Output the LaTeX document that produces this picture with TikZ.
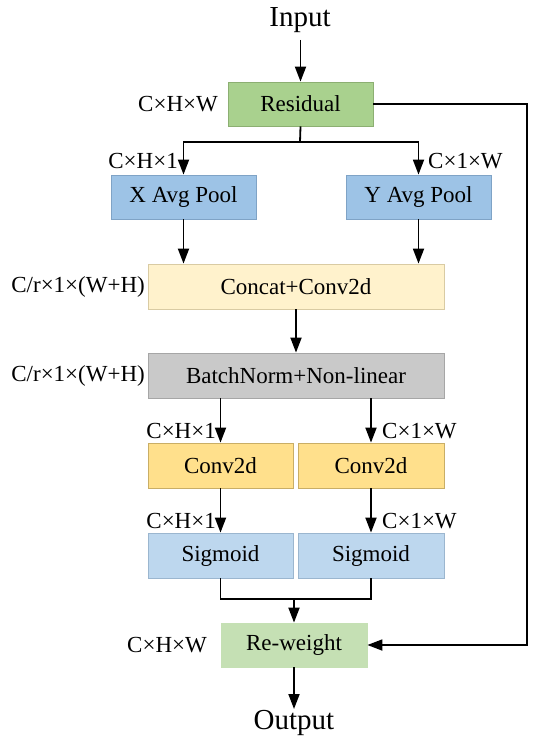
\documentclass[tikz,border=0pt]{standalone}
\usepackage{fontspec}
\setmainfont{Liberation Serif}
\usetikzlibrary{arrows.meta}
\definecolor{resfill}{HTML}{A9D18E}
\definecolor{resdraw}{HTML}{8CAF72}
\definecolor{poolfill}{HTML}{9DC3E6}
\definecolor{pooldraw}{HTML}{7FA3C6}
\definecolor{catfill}{HTML}{FFF2CC}
\definecolor{catdraw}{HTML}{D9CBA3}
\definecolor{bnfill}{HTML}{C9C9C9}
\definecolor{bndraw}{HTML}{A6A6A6}
\definecolor{convfill}{HTML}{FFE08C}
\definecolor{convdraw}{HTML}{C9AE66}
\definecolor{sigfill}{HTML}{BDD7EE}
\definecolor{sigdraw}{HTML}{9BB6CF}
\definecolor{rwfill}{HTML}{C5E0B4}
\tikzset{
  box/.style={minimum height=44pt, inner sep=0pt, font=\fontsize{23}{26}\selectfont, line width=0.8pt},
  lbl/.style={inner sep=0pt, font=\fontsize{23}{26}\selectfont},
  io/.style={inner sep=1pt, font=\fontsize{29}{32}\selectfont},
  conn/.style={line width=1.8pt, black},
  arr/.style={conn, -{Triangle[length=15pt,width=11pt]}}
}
\begin{document}
\begin{tikzpicture}[x=1pt,y=-1pt]
\useasboundingbox (0,0) rectangle (550,746);
\node[io] (in) at (300,20) {Input};
\node[box, fill=resfill, draw=resdraw, minimum width=145pt] (res) at (300.5,104) {Residual};
\node[box, fill=poolfill, draw=pooldraw, minimum width=145pt] (xp) at (183.5,197) {X Avg Pool};
\node[box, fill=poolfill, draw=pooldraw, minimum width=145pt] (yp) at (418.5,197) {Y Avg Pool};
\node[box, fill=catfill, draw=catdraw, minimum width=296pt, minimum height=45pt] (cat) at (296,286.5) {Concat+Conv2d};
\node[box, fill=bnfill, draw=bndraw, minimum width=296pt, minimum height=45pt] (bn) at (296,375.5) {BatchNorm+Non-linear};
\node[box, fill=convfill, draw=convdraw, minimum width=145pt, minimum height=45pt] (cl) at (220.5,465.5) {Conv2d};
\node[box, fill=convfill, draw=convdraw, minimum width=146pt, minimum height=45pt] (cr) at (371,465.5) {Conv2d};
\node[box, fill=sigfill, draw=sigdraw, minimum width=145pt, minimum height=45pt] (sl) at (220.5,555.5) {Sigmoid};
\node[box, fill=sigfill, draw=sigdraw, minimum width=146pt, minimum height=45pt] (sr) at (371,555.5) {Sigmoid};
\node[box, fill=rwfill, draw=rwfill, minimum width=146pt] (rw) at (294,645) {Re-weight};
\node[io, anchor=north] (out) at (294,709) {Output};
% labels
\node[lbl, anchor=east] (l1) at (218,104) {C×H×W};
\node[lbl, anchor=east] (l2) at (178,161) {C×H×1};
\node[lbl, anchor=west] (l3) at (428,161) {C×1×W};
\node[lbl, anchor=east] (l4) at (145,287) {C/r×1×(W+H)};
\node[lbl, anchor=east] (l5) at (145,376) {C/r×1×(W+H)};
\node[lbl, anchor=east] (l6) at (216,431) {C×H×1};
\node[lbl, anchor=west] (l7) at (382,431) {C×1×W};
\node[lbl, anchor=east] (l8) at (216,521) {C×H×1};
\node[lbl, anchor=west] (l9) at (382,521) {C×1×W};
\node[lbl, anchor=east] (l10) at (207,645) {C×H×W};
% connectors
\coordinate (sp) at (300,142);
\coordinate (jn) at (294,599);
\coordinate (rc) at (527,104);
\draw[arr] (in.south -| res.north) ++(0,6) -- (res.north);
\draw[conn] (res.south) -- (sp);
\draw[arr] (sp) -| (xp.north);
\draw[arr] (sp) -| (yp.north);
\draw[arr] (xp.south) -- (xp.south |- cat.north);
\draw[arr] (yp.south) -- (yp.south |- cat.north);
\draw[arr] (cat.south) -- (bn.north);
\draw[arr] (cl.north |- bn.south) -- (cl.north);
\draw[arr] (cr.north |- bn.south) -- (cr.north);
\draw[arr] (cl.south) -- (sl.north);
\draw[arr] (cr.south) -- (sr.north);
\draw[conn] (sl.south) |- (jn) -| (sr.south);
\draw[arr] (jn) -- (rw.north);
\draw[arr] (res.east) -- (rc) |- (rw.east);
\draw[arr] (rw.south) -- (out.north);
\end{tikzpicture}
\end{document}
